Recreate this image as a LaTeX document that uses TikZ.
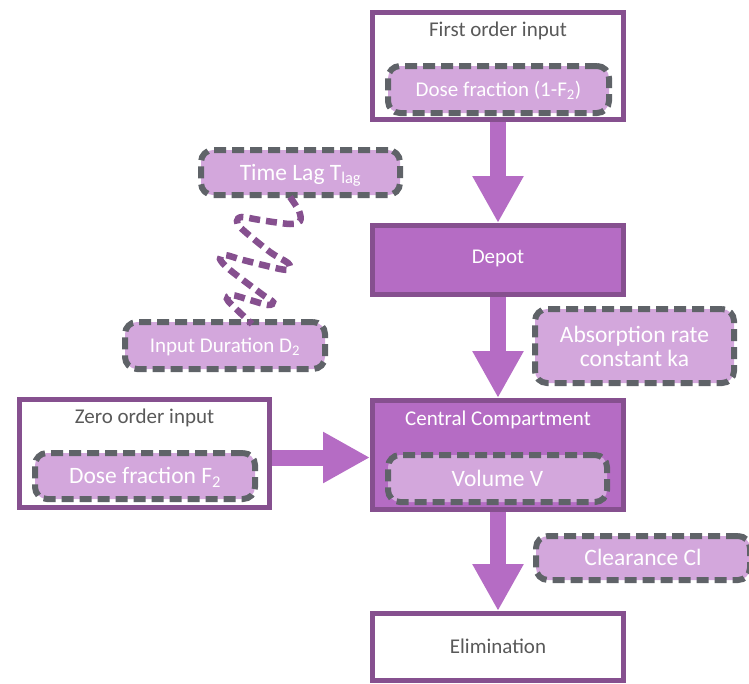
\documentclass[tikz,border=0pt]{standalone}
\usepackage{fontspec}
\setmainfont{Carlito}
\usetikzlibrary{arrows.meta}
\definecolor{dkp}{HTML}{86508F}
\definecolor{mdp}{HTML}{B56CC4}
\definecolor{ltp}{HTML}{D3A7DC}
\definecolor{gdash}{HTML}{5F6368}
\definecolor{gtext}{HTML}{595959}
\begin{document}
\begin{tikzpicture}[x=1pt,y=-1pt,
  container/.style={draw=dkp, line width=5pt, fill=white, inner sep=0pt, rectangle},
  solidbox/.style={container, fill=mdp},
  param/.style={draw=gdash, fill=ltp, line width=6pt, dash pattern=on 12pt off 6pt,
    rounded corners=12pt, inner sep=0pt, text=white,
    font=\fontsize{23.5}{24}\selectfont, text height=15.1pt, text depth=0pt},
  smallparam/.style={param, font=\fontsize{21}{24}\selectfont, text height=13.5pt},
  title/.style={anchor=base, inner sep=0pt, font=\fontsize{21}{25}\selectfont},
  blockarrow/.style={draw=mdp, line width=16pt, -{Triangle[width=48pt,length=47pt]}},
  coil/.style={draw=dkp, line width=6.5pt, dash pattern=on 11pt off 6pt}]
\useasboundingbox (0,0) rectangle (749,683);

% containers
\node[container, minimum width=251pt, minimum height=107pt] (first) at (498,66) {};
\node[solidbox, minimum width=251pt, minimum height=69pt] (depot) at (498,260) {};
\node[solidbox, minimum width=251pt, minimum height=109pt] (central) at (498,455) {};
\node[container, minimum width=251pt, minimum height=67pt] (elim) at (498,647) {};
\node[container, minimum width=250pt, minimum height=108pt] (zero) at (144.5,453.5) {};

% titles
\node[title, text=gtext] (tfirst) at (498,36) {First order input};
\node[title, text=white] (tdepot) at (498,263) {Depot};
\node[title, text=white] (tcentral) at (498,425) {Central Compartment};
\node[title, text=gtext] (telim) at (498,653) {Elimination};
\node[title, text=gtext] (tzero) at (144.5,423) {Zero order input};

% parameter boxes
\node[smallparam, minimum width=221pt, minimum height=47pt] (dose1) at (498.5,89.5) {Dose fraction (1-F\textsubscript{2})};
\node[param, minimum width=199pt, minimum height=45pt] (timelag) at (300.5,172.5) {Time Lag T\textsubscript{lag}};
\node[smallparam, minimum width=200pt, minimum height=47pt] (inputdur) at (225,345.5) {Input Duration D\textsubscript{2}};
\node[param, minimum width=199pt, minimum height=74pt, text height=, text depth=, align=center] (absorp) at (634.5,346) {Absorption rate\\constant ka};
\node[param, minimum width=219pt, minimum height=47pt] (volume) at (497.5,478.5) {Volume V};
\node[param, minimum width=220pt, minimum height=46pt] (dosef2) at (145,476) {Dose fraction F\textsubscript{2}};
\node[param, minimum width=214pt, minimum height=44pt] (clear) at (643,558) {Clearance Cl};

% block arrows
\coordinate (harrow) at (0,457.5);
\draw[blockarrow] (first.south) -- (depot.north);
\draw[blockarrow] (depot.south) -- (central.north);
\draw[blockarrow] (central.south) -- (elim.north);
\draw[blockarrow] (zero.east |- harrow) -- (central.west |- harrow);

% coil connector
\coordinate (cstart) at (290,197);
\coordinate (cend) at (252,324);
\draw[coil] plot[smooth, tension=0.55] coordinates {(cstart) (299,211) (300,221) (290,224)
  (260,220) (242,217) (237,221) (242,229) (270,252) (288,263) (289,269) (280,269)
  (243,260) (225,255) (220,259) (230,270) (263,295) (273,302) (268,305) (250,300)
  (232,295) (227,299) (233,306) (cend)};
\end{tikzpicture}
\end{document}
